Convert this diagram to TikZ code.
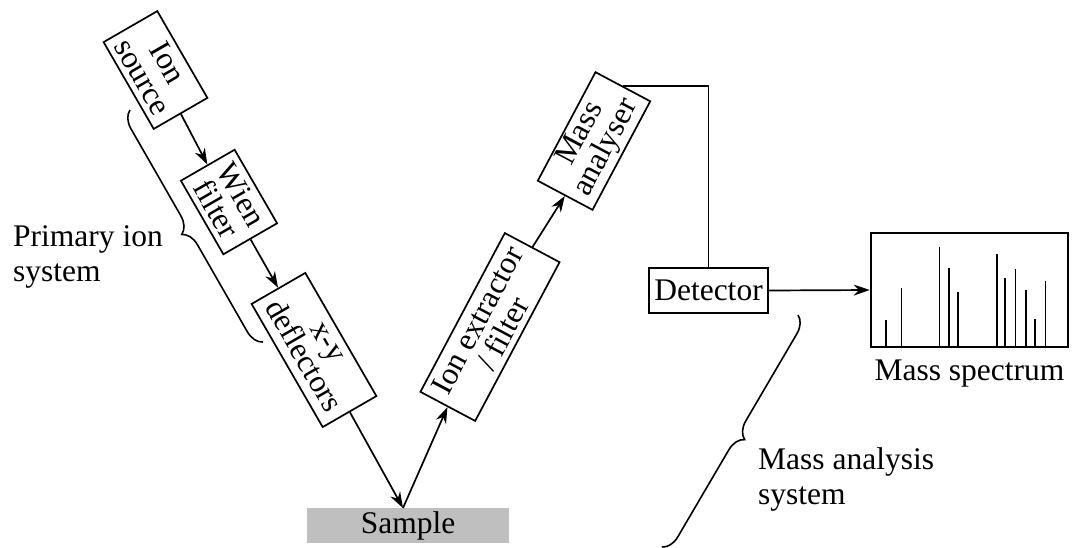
\documentclass[tikz,border=0pt]{standalone}
\usepackage{fontspec}
\setmainfont{Liberation Serif}
\usetikzlibrary{
    arrows.meta,
    decorations.pathreplacing
}
\tikzset{
    >={Stealth[length=16pt, width=11pt]},
    unit/.style={
        draw,
        line width=1.7pt,
        align=center,
        font=\fontsize{31.5}{29}\selectfont,
        inner xsep=9pt,
        inner ysep=1pt,
        minimum height=62pt
    },
    caption/.style={
        align=left,
        inner sep=0pt,
        font=\fontsize{31.5}{35}\selectfont
    },
    flow/.style={->, line width=1.7pt},
    curly/.style={
        decorate,
        decoration={brace, amplitude=17pt},
        line width=1.6pt
    }
}

\begin{document}
\begin{tikzpicture}[
    x=1pt,
    y=1pt
]
    \useasboundingbox (0,0) rectangle (1076,-547);

    % Columna primaria
    \node[unit, rotate=-60] (src)  at (155.5,-70) {Ion\\source};
    \node[unit, rotate=-60] (wien) at (229,-202)  {Wien\\filter};
    \node[unit, rotate=-60] (defl) at (314,-350)  {x-y\\deflectors};

    % Muestra
    \node[fill=black!25, minimum width=202, minimum height=35,
          font=\fontsize{31.5}{35}\selectfont] (sample) at (408,-525.5) {Sample};
    \coordinate (hit) at (403,-508);

    % Columna secundaria
    \node[unit, rotate=62] (extr) at (490,-327) {Ion extractor\\/ filter};
    \node[unit, rotate=62] (mass) at (594,-141) {Mass\\analyser};

    % Detector y espectro
    \node[unit, minimum height=45, inner xsep=5pt] (det) at (708.5,-290.5) {Detector};
    \node[draw, line width=2.6pt, minimum width=197, minimum height=114] (spec) at (969.5,-290) {};
    \node[caption, anchor=north] (speclbl) at ([yshift=-11]spec.south) {Mass spectrum};

    \foreach \bx/\bh in {885.7/27, 901.3/59, 939.3/100, 948.7/79, 957.7/55,
                         997/93, 1004.7/69, 1015.3/78, 1025.7/57, 1035/28, 1045.3/66}
        \draw[line width=1.6pt] (\bx,-347) -- ++(0,\bh);

    % Trayectoria de los iones
    \draw[flow] (src.east) -- (wien.west);
    \draw[flow] (wien.east) -- (defl.west);
    \draw[flow] (defl.east) -- (hit);
    \draw[flow] (hit) -- (extr.west);
    \draw[flow] (extr.east) -- (mass.west);
    \draw[line width=1.7pt] (mass.east) -| (det.north);
    \draw[flow] (det.east) -- (spec.west);

    % Llaves
    \coordinate (pa) at (263,-342);
    \coordinate (pb) at (130,-110);
    \draw[curly] (pa) -- (pb);
    \node[caption, anchor=north west] (primary) at (13,-225) {Primary ion\\system};

    \coordinate (ma) at (798,-315);
    \coordinate (mb) at (662,-547);
    \draw[curly] (ma) -- (mb);
    \node[caption, anchor=north west] (analysis) at (758,-447) {Mass analysis\\system};

\end{tikzpicture}
\end{document}
